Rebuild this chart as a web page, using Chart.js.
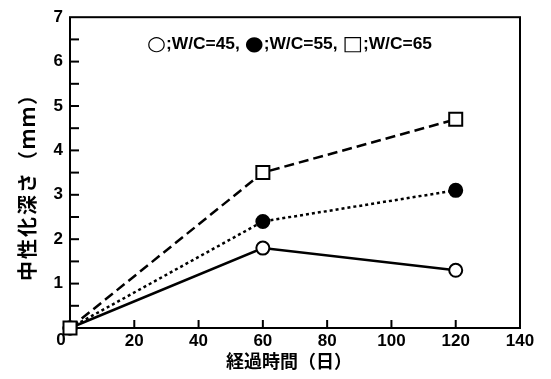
<!DOCTYPE html>
<html><head><meta charset="utf-8">
<script src="https://cdn.jsdelivr.net/npm/chart.js@4/dist/chart.umd.min.js"></script>
<style>html,body{margin:0;padding:0;background:#fff}canvas{display:block}</style>
</head><body>
<canvas id="c" width="551" height="379"></canvas>
<script>
const days = [0, 60, 120];
const wc45 = [0, 1.8, 1.3];
const wc55 = [0, 2.4, 3.1];
const wc65 = [0, 3.5, 4.7];
const seriesNames = ['W/C=45', 'W/C=55', 'W/C=65'];
const seriesSymbols = ['○', '●', '□'];
const xTickValues = [0, 20, 40, 60, 80, 100, 120, 140];
const yTickValues = [0, 1, 2, 3, 4, 5, 6, 7];
const xTitle = '経過時間（日）';
const yTitle = '中性化深さ（ｍｍ）';

const pts = arr => days.map((d, i) => ({x: d, y: arr[i]}));
const FONT = '"Liberation Sans", Arial, sans-serif';
const SYM = '"DejaVu Sans", sans-serif';
const CJK = '"Noto Sans CJK JP", sans-serif';

const frame = {
  id: 'frame',
  beforeDatasetsDraw(chart) {
    const {ctx, chartArea: a, scales: {x, y}} = chart;
    ctx.save();
    ctx.strokeStyle = '#000';
    ctx.lineWidth = 2;
    ctx.strokeRect(a.left, a.top, a.right - a.left, a.bottom - a.top);
    for (let k = 1; k < yTickValues.length * 2 - 2; k++) {
      const v = k / 2;
      const py = y.getPixelForValue(v);
      ctx.beginPath(); ctx.moveTo(a.left, py); ctx.lineTo(a.left + 9, py); ctx.stroke();
    }
    for (const v of xTickValues.slice(1, -1)) {
      const px = x.getPixelForValue(v);
      ctx.beginPath(); ctx.moveTo(px, a.bottom); ctx.lineTo(px, a.bottom - 8); ctx.stroke();
    }
    ctx.fillStyle = '#000';
    // zero label shared by both axes
    ctx.font = 'bold 17px ' + FONT;
    ctx.textAlign = 'center'; ctx.textBaseline = 'top';
    ctx.fillText(String(xTickValues[0]), x.getPixelForValue(0) - 9, a.bottom + 4);
    // x title
    ctx.font = 'bold 18px ' + CJK;
    ctx.textAlign = 'center'; ctx.textBaseline = 'middle';
    ctx.fillText(xTitle, 289, 361);
    // y title
    ctx.save();
    ctx.translate(27, 182);
    ctx.rotate(-Math.PI / 2);
    ctx.font = 'bold 20px ' + CJK;
    ctx.letterSpacing = '2px';
    ctx.fillText(yTitle, 0, 0);
    ctx.restore();
    // legend text, drawn in pieces (symbol glyphs + labels)
    const pieces = [];
    seriesNames.forEach((n, i) => {
      pieces.push({t: seriesSymbols[i], f: '20px ' + SYM, dy: 0});
      pieces.push({t: ';' + n + (i < seriesNames.length - 1 ? ', ' : ''), f: 'bold 16px ' + FONT, dy: 0});
    });
    ctx.textAlign = 'left'; ctx.textBaseline = 'middle';
    let total = 0;
    pieces.forEach(p => { ctx.font = p.f; p.w = ctx.measureText(p.t).width; total += p.w; });
    const sx = 285 / total;
    ctx.save();
    ctx.translate(147, 45);
    ctx.scale(sx, 1);
    let cx = 0;
    pieces.forEach(p => { ctx.font = p.f; ctx.fillText(p.t, cx, p.dy); cx += p.w; });
    ctx.restore();
    ctx.restore();
  }
};

new Chart(document.getElementById('c'), {
  type: 'scatter',
  data: {
    datasets: [
      {label: seriesNames[0], data: pts(wc45), showLine: true, borderColor: '#000', borderWidth: 2.5,
       pointStyle: 'circle', pointRadius: 6.5, pointBackgroundColor: '#fff', pointBorderColor: '#000', pointBorderWidth: 2,
       order: 3, clip: false},
      {label: seriesNames[1], data: pts(wc55), showLine: true, borderColor: '#000', borderWidth: 2.5, borderDash: [3, 3],
       pointStyle: 'circle', pointRadius: 6.5, pointBackgroundColor: '#000', pointBorderColor: '#000', pointBorderWidth: 2,
       order: 2, clip: false},
      {label: seriesNames[2], data: pts(wc65), showLine: true, borderColor: '#000', borderWidth: 2.5, borderDash: [10, 5],
       pointStyle: 'rect', pointRadius: 9.2, pointBackgroundColor: '#fff', pointBorderColor: '#000', pointBorderWidth: 2,
       order: 1, clip: false}
    ]
  },
  options: {
    responsive: false,
    devicePixelRatio: 1,
    animation: false,
    layout: {padding: {left: 0, right: 31, top: 7, bottom: 0}},
    plugins: {legend: {display: false}, tooltip: {enabled: false}},
    scales: {
      x: {
        type: 'linear', min: 0, max: 140,
        afterFit: s => { s.height = 51; },
        afterBuildTicks: s => { s.ticks = xTickValues.map(v => ({value: v})); },
        grid: {display: false, drawTicks: false},
        border: {display: false},
        ticks: {color: '#000', font: {family: FONT, size: 17, weight: 'bold'}, padding: 3,
                maxRotation: 0, callback: v => v === 0 ? '' : String(v)}
      },
      y: {
        type: 'linear', min: 0, max: 7,
        afterFit: s => { s.width = 70; },
        afterBuildTicks: s => { s.ticks = yTickValues.map(v => ({value: v})); },
        grid: {display: false, drawTicks: false},
        border: {display: false},
        ticks: {color: '#000', font: {family: FONT, size: 17, weight: 'bold'}, padding: 7,
                callback: v => v === 0 ? '' : String(v)}
      }
    }
  },
  plugins: [frame]
});
</script>
</body></html>
